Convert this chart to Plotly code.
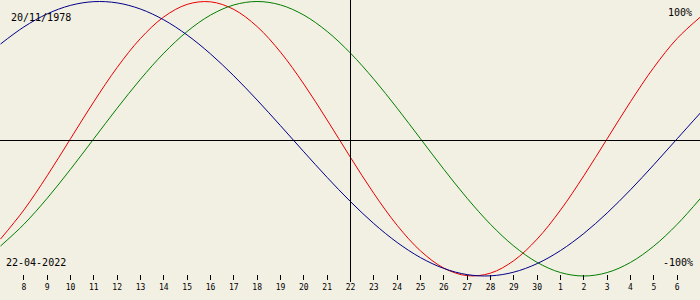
import plotly.graph_objects as go

# Days shown (April 7 .. May 7, May days continue as 31, 32, ...)
days = list(range(7, 38))
target_day = 22

# Biorhythm values, one per day (-1 .. 1)
physical = [-0.7308, -0.5196, -0.2698, 0.0, 0.2698, 0.5196, 0.7308, 0.8879, 0.9791, 0.9977,
            0.9423, 0.8170, 0.6311, 0.3984, 0.1362, -0.1362, -0.3984, -0.6311, -0.8170, -0.9423,
            -0.9977, -0.9791, -0.8879, -0.7308, -0.5196, -0.2698, 0.0, 0.2698, 0.5196, 0.7308, 0.8879]
emotional = [-0.7818, -0.6235, -0.4339, -0.2225, 0.0, 0.2225, 0.4339, 0.6235, 0.7818, 0.9010,
             0.9749, 1.0, 0.9749, 0.9010, 0.7818, 0.6235, 0.4339, 0.2225, 0.0, -0.2225,
             -0.4339, -0.6235, -0.7818, -0.9010, -0.9749, -1.0, -0.9749, -0.9010, -0.7818, -0.6235, -0.4339]
intellectual = [0.6901, 0.8146, 0.9096, 0.9718, 0.9989, 0.9898, 0.9450, 0.8660, 0.7557, 0.6182,
                0.4582, 0.2817, 0.0951, -0.0951, -0.2817, -0.4582, -0.6182, -0.7557, -0.8660, -0.9450,
                -0.9898, -0.9989, -0.9718, -0.9096, -0.8146, -0.6901, -0.5406, -0.3717, -0.1893, 0.0, 0.1893]

tick_days = list(range(8, 37))
tick_labels = ["8", "9", "10", "11", "12", "13", "14", "15", "16", "17", "18", "19", "20", "21",
               "22", "23", "24", "25", "26", "27", "28", "29", "30", "1", "2", "3", "4", "5", "6"]

birth_text = "20/11/1978"
date_text = "22-04-2022"
top_text = "100%"
bottom_text = "-100%"

BG = "#F2EFE3"
W, H, B = 700, 300, 20
PH = H - B  # plot area height in px

def py(pix):
    return 1 - pix / PH

fig = go.Figure()
for vals, col in [(physical, "#E80000"), (emotional, "#007F00"), (intellectual, "#000088")]:
    fig.add_trace(go.Scatter(x=days, y=vals, mode="lines",
                             line=dict(color=col, width=1, shape="spline", smoothing=1.0),
                             hoverinfo="skip"))

scale = 137.25
ymax = 1 + 1.5 / scale
ymin = ymax - PH / scale

px_per_day = W / 30
half = 0.5 / px_per_day

fig.update_layout(
    width=W, height=H,
    margin=dict(l=0, r=0, t=0, b=B),
    paper_bgcolor=BG, plot_bgcolor=BG,
    showlegend=False,
    xaxis=dict(range=[7 - half, 37 - half], showgrid=False, zeroline=False, showline=False,
               ticks="inside", ticklen=5, tickwidth=1, tickcolor="black",
               tickvals=tick_days, ticktext=tick_labels,
               tickfont=dict(family="DejaVu Sans Mono", size=8, color="black"),
               ticklabelstandoff=1),
    yaxis=dict(range=[ymin, ymax], visible=False, showgrid=False, zeroline=False),
    shapes=[
        dict(type="line", xref="paper", yref="paper", x0=0, x1=1, y0=py(140.5), y1=py(140.5),
             line=dict(color="black", width=1)),
        dict(type="line", xref="x", yref="paper", x0=target_day, x1=target_day,
             y0=py(282), y1=1, line=dict(color="black", width=1)),
    ],
    annotations=[
        dict(text=birth_text, xref="paper", yref="paper", x=9 / W, y=py(17),
             xanchor="left", yanchor="middle", showarrow=False,
             font=dict(family="DejaVu Sans Mono", size=10, color="black")),
        dict(text=date_text, xref="paper", yref="paper", x=4 / W, y=py(262.5),
             xanchor="left", yanchor="middle", showarrow=False,
             font=dict(family="DejaVu Sans Mono", size=10, color="black")),
        dict(text=top_text, xref="paper", yref="paper", x=694 / W, y=py(12.5),
             xanchor="right", yanchor="middle", showarrow=False,
             font=dict(family="DejaVu Sans Mono", size=10, color="black")),
        dict(text=bottom_text, xref="paper", yref="paper", x=695 / W, y=py(262.5),
             xanchor="right", yanchor="middle", showarrow=False,
             font=dict(family="DejaVu Sans Mono", size=10, color="black")),
    ],
)

fig.write_html("out.html")
